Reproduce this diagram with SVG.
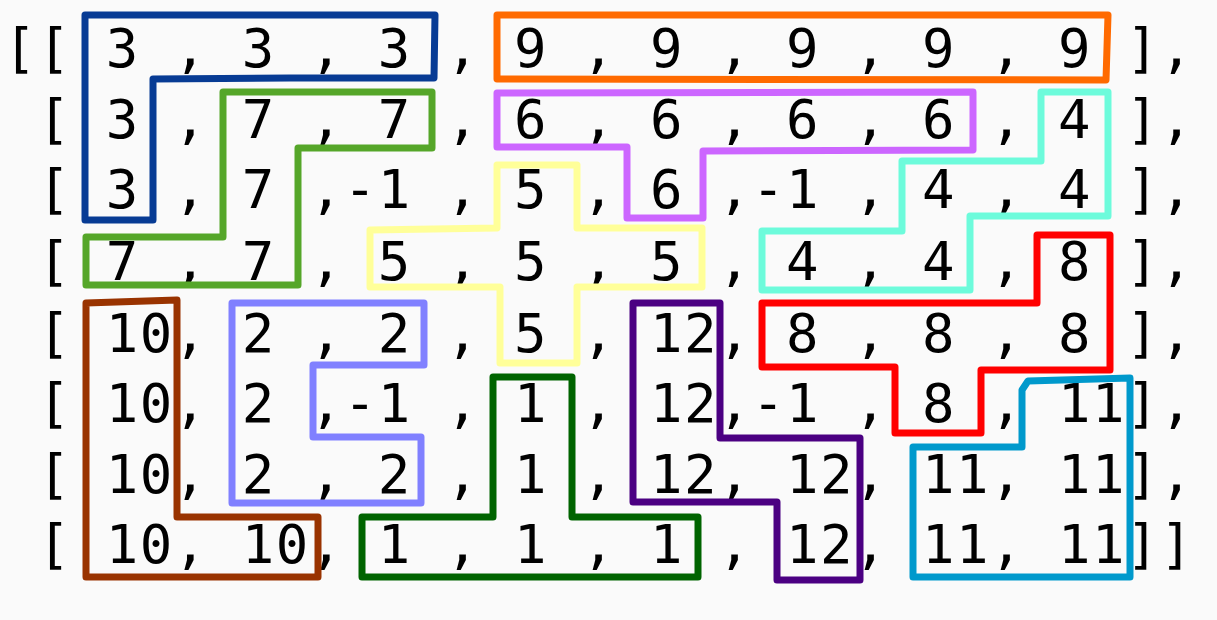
<svg xmlns="http://www.w3.org/2000/svg" width="1217" height="620" viewBox="0 0 1217 620">
<style>
.t{font-family:"DejaVu Sans Mono","Liberation Mono",monospace;font-size:54px;letter-spacing:1.5px;fill:#000;white-space:pre}
.r{fill:none;stroke-width:7;stroke-linejoin:round;stroke-linecap:round}
</style>
<rect x="0" y="0" width="1217" height="620" fill="#fafafa"/>
<g id="matrix-text">
<text class="t" x="3.75" y="67" xml:space="preserve">[[ 3 , 3 , 3 , 9 , 9 , 9 , 9 , 9 ],</text>
<text class="t" x="37.75" y="138" xml:space="preserve">[ 3 , 7 , 7 , 6 , 6 , 6 , 6 , 4 ],</text>
<text class="t" x="37.75" y="208" xml:space="preserve">[ 3 , 7 ,-1 , 5 , 6 ,-1 , 4 , 4 ],</text>
<text class="t" x="37.75" y="280" xml:space="preserve">[ 7 , 7 , 5 , 5 , 5 , 4 , 4 , 8 ],</text>
<text class="t" x="37.75" y="352" xml:space="preserve">[ 10, 2 , 2 , 5 , 12, 8 , 8 , 8 ],</text>
<text class="t" x="37.75" y="422" xml:space="preserve">[ 10, 2 ,-1 , 1 , 12,-1 , 8 , 11],</text>
<text class="t" x="37.75" y="493" xml:space="preserve">[ 10, 2 , 2 , 1 , 12, 12, 11, 11],</text>
<text class="t" x="37.75" y="563" xml:space="preserve">[ 10, 10, 1 , 1 , 1 , 12, 11, 11]]</text>
</g>
<g id="region-3"><polygon class="r" stroke="#073b94" points="85,15 435,15 434,78 290,78 153,79 153,220 85,220"/></g>
<g id="region-9"><polygon class="r" stroke="#ff6a00" points="497,15 1108,15 1106,80 497,79"/></g>
<g id="region-7"><polygon class="r" stroke="#55a629" points="223,92 432,92 432,148 298,148 298,285 86,285 86,237 223,237"/></g>
<g id="region-6"><polygon class="r" stroke="#cc66ff" points="497,93 973,92 973,150 703,151 703,218 627,218 627,147 497,147"/></g>
<g id="region-4"><polygon class="r" stroke="#6dfbdb" points="1041,92 1108,92 1108,216 970,216 970,290 762,290 762,231 902,231 902,161 1041,161"/></g>
<g id="region-5"><polygon class="r" stroke="#ffff99" points="497,165 577,165 577,228 702,228 702,287 577,287 577,363 500,363 500,287 370,287 370,230 497,228"/></g>
<g id="region-8"><polygon class="r" stroke="#ff0000" points="1037,235 1110,235 1110,370 981,370 981,433 895,433 895,367 762,367 762,303 1037,303"/></g>
<g id="region-10"><polygon class="r" stroke="#993300" points="86,303 177,300 177,517 318,517 318,577 86,577"/></g>
<g id="region-2"><polygon class="r" stroke="#8080ff" points="232,303 424,303 424,365 313,365 313,437 421,437 421,503 232,503"/></g>
<g id="region-1"><polygon class="r" stroke="#006400" points="493,377 572,377 572,517 698,517 698,577 362,577 362,517 493,517"/></g>
<g id="region-12"><polygon class="r" stroke="#4b0082" points="633,303 720,303 720,438 860,438 860,580 777,580 777,502 633,502"/></g>
<g id="region-11"><polygon class="r" stroke="#0099cc" points="1022,390 1028,381 1130,378 1130,577 913,577 913,447 1022,447"/></g>
</svg>
